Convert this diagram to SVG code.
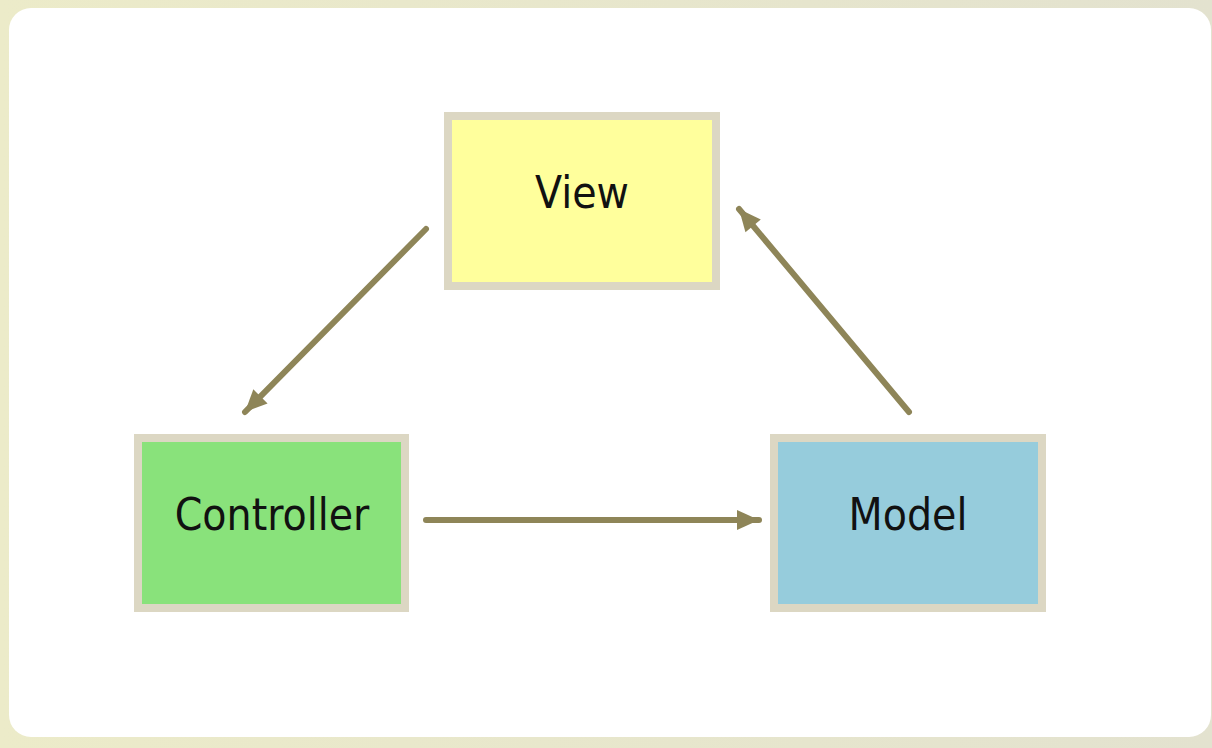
<svg xmlns="http://www.w3.org/2000/svg" width="1212" height="748" viewBox="0 0 1212 748">
<style>
.box{stroke:#dcd7c3;stroke-width:8}
.lbl{font-family:"DejaVu Sans Condensed","DejaVu Sans",sans-serif;font-size:44px;fill:#111;text-anchor:middle}
.conn{stroke:#8e8558;stroke-width:6;fill:none;stroke-linecap:round}
</style>
<defs>
<marker id="ah" markerUnits="userSpaceOnUse" markerWidth="26" markerHeight="24" refX="22" refY="10" orient="auto" overflow="visible">
<path d="M0,0 L22,10 L0,20 z" fill="#8e8558"/>
</marker>
<linearGradient id="frame" x1="0" y1="0" x2="1" y2="0">
<stop offset="0" stop-color="#ecebc9"/>
<stop offset="1" stop-color="#e3e2cf"/>
</linearGradient>
</defs>
<rect x="0" y="0" width="1212" height="748" fill="url(#frame)"/>
<rect x="9" y="8" width="1202" height="729" rx="22" fill="#ffffff"/>
<g id="view">
<rect class="box" x="448" y="116" width="268" height="170" fill="#ffff9c"/>
<text class="lbl" x="582" y="208">View</text>
</g>
<g id="controller">
<rect class="box" x="138" y="438" width="267" height="170" fill="#89e27b"/>
<text class="lbl" x="272" y="530">Controller</text>
</g>
<g id="model">
<rect class="box" x="774" y="438" width="268" height="170" fill="#96ccdc"/>
<text class="lbl" x="908" y="530">Model</text>
</g>
<g id="connectors">
<line class="conn" x1="426" y1="229" x2="245" y2="412" marker-end="url(#ah)"/>
<line class="conn" x1="426" y1="520" x2="759" y2="520" marker-end="url(#ah)"/>
<line class="conn" x1="909" y1="412" x2="739" y2="209" marker-end="url(#ah)"/>
</g>
</svg>
